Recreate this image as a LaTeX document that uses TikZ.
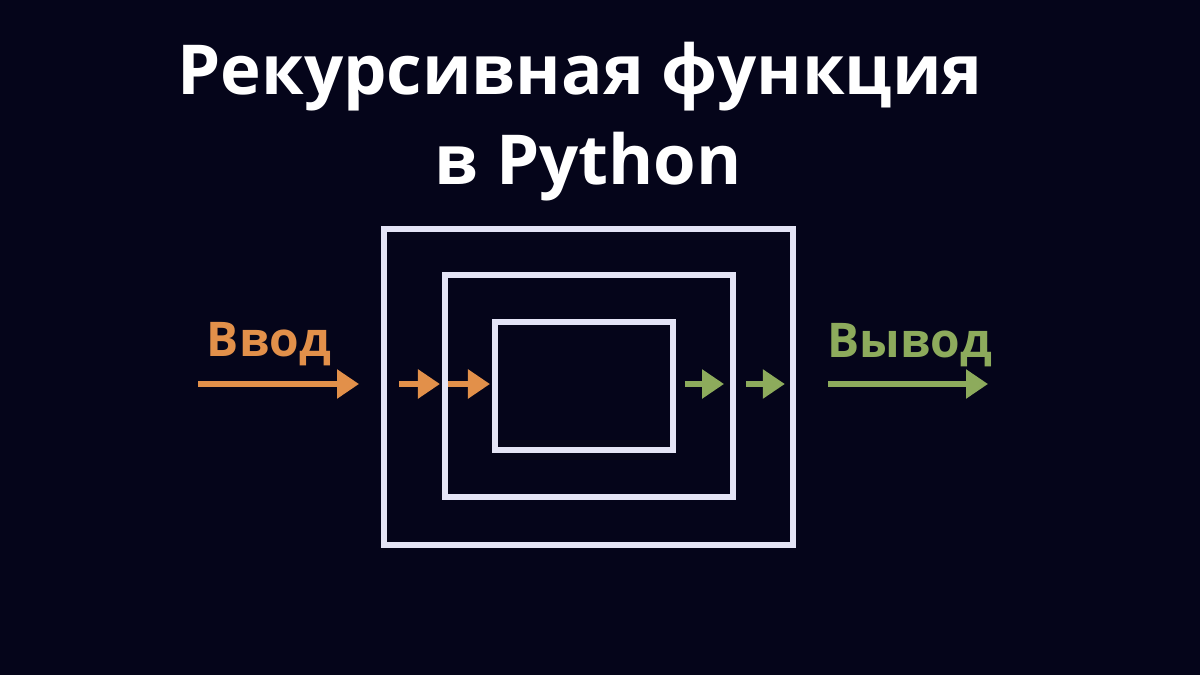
\documentclass[tikz,border=0pt]{standalone}
\usepackage{fontspec}
\setmainfont{Open Sans}
\usetikzlibrary{arrows.meta,positioning,calc}
\definecolor{rbg}{HTML}{05051A}
\definecolor{rframe}{HTML}{E4E4F6}
\definecolor{rorange}{HTML}{E2904A}
\definecolor{rgreen}{HTML}{8DAB5C}
\tikzset{
  frame/.style={draw=rframe,line width=0.15cm,inner sep=0pt},
  inarr/.style={-{Triangle[length=0.55cm,width=0.7cm]},line width=0.15cm,draw=rorange},
  outarr/.style={-{Triangle[length=0.55cm,width=0.7cm]},line width=0.15cm,draw=rgreen},
  ttl/.style={text=white,font=\fontsize{49}{60}\selectfont\bfseries,anchor=base,inner sep=0pt},
  lbl/.style={font=\fontsize{34}{42}\selectfont\bfseries,anchor=base,inner sep=0pt},
}
\begin{document}
\begin{tikzpicture}[x=0.025cm,y=-0.025cm]
  \fill[rbg] (0,0) rectangle (1200,675);
  \useasboundingbox (0,0) rectangle (1200,675);
  % заголовок
  \node[ttl] (t1) at (580,95) {Рекурсивная функция};
  \node[ttl] (t2) at (588,185) {в Python};
  % вложенные рамки
  \node[frame,minimum width=10.225cm,minimum height=7.9cm] (outer) at (588.5,387) {};
  \node[frame,minimum width=7.2cm,minimum height=5.55cm] (mid) at (589,386) {};
  \node[frame,minimum width=4.45cm,minimum height=3.2cm] (inner) at (584,386) {};
  % вход
  \node[lbl,text=rorange] (in) at (269,356) {Ввод};
  \coordinate (a0) at (198,384);
  \coordinate (a1) at (359,384);
  \draw[inarr] (a0) -- (a1);
  \draw[inarr,shorten <=0.45cm,shorten >=0.05cm] (outer.west |- a0) -- (mid.west |- a0);
  \draw[inarr,shorten <=0.15cm,shorten >=0.05cm] (mid.west |- a0) -- (inner.west |- a0);
  % выход
  \node[lbl,text=rgreen] (out) at (910,357) {Вывод};
  \coordinate (b0) at (828,384);
  \coordinate (b1) at (988,384);
  \draw[outarr,shorten <=0.22cm,shorten >=0.3cm] (inner.east |- b0) -- (mid.east |- b0);
  \draw[outarr,shorten <=0.25cm,shorten >=0.28cm] (mid.east |- b0) -- (outer.east |- b0);
  \draw[outarr] (b0) -- (b1);
\end{tikzpicture}
\end{document}
